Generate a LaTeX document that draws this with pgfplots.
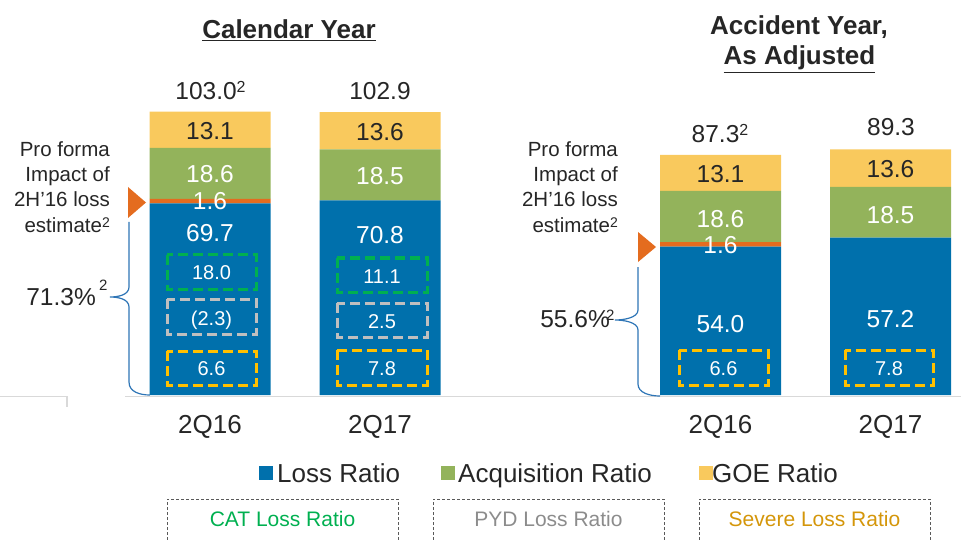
\documentclass[border=0pt]{standalone}
\usepackage{pgfplots}
\pgfplotsset{compat=1.18}
\usepackage{fontspec}
\setmainfont{Liberation Sans}
\definecolor{lossblue}{HTML}{0070AC}
\definecolor{acqgreen}{HTML}{93B35B}
\definecolor{goeyellow}{HTML}{F9C95D}
\definecolor{proorange}{HTML}{E46C1F}
\definecolor{catgreen}{HTML}{00B050}
\definecolor{pydgray}{HTML}{BFBFBF}
\definecolor{sevgold}{HTML}{FFC000}
\definecolor{txt}{HTML}{262626}
\definecolor{axgray}{HTML}{D9D9D9}
\definecolor{bracecol}{HTML}{2E75B6}
\definecolor{pydtext}{HTML}{8C8C8C}
\definecolor{sevtext}{HTML}{D4960A}
\newcommand{\fs}[1]{\fontsize{#1}{#1}\selectfont}
\newcommand{\suptwo}[2]{\raisebox{#1pt}{\fs{#2}2}}
\begin{document}
\begin{tikzpicture}[x=1pt,y=1pt]
\useasboundingbox (0,0) rectangle (961,539);
\begin{scope}[y=-1pt,yshift=539pt]
\draw[axgray,line width=1.5pt] (125,396.5) -- (961,396.5);
\draw[axgray,line width=1.5pt] (0,396.5) -- (67,396.5) -- (67,407);
\end{scope}
\begin{axis}[at={(0,0)},anchor=south west,scale only axis,
  width=961pt,height=539pt,
  xmin=0,xmax=961,ymin=-52.3636,ymax=143.6364,
  axis x line=middle, axis y line=none,
  x axis line style={draw=none},
  ybar stacked, bar width=121pt,
  xtick={210,380,720.5,890.5},
  xticklabels={2Q16,2Q17,2Q16,2Q17},
  major tick length=0pt,
  xticklabel style={font=\fs{26},text=txt,anchor=north,yshift=-17pt},
  ytick=\empty, clip=false]
\addplot[fill=lossblue,draw=none] coordinates {(210,69.7) (380,70.8) (720.5,54.0) (890.5,57.2)};
\addplot[fill=proorange,draw=none] coordinates {(210,1.6) (380,0) (720.5,1.6) (890.5,0)};
\addplot[fill=acqgreen,draw=none] coordinates {(210,18.6) (380,18.5) (720.5,18.6) (890.5,18.5)};
\addplot[fill=goeyellow,draw=none] coordinates {(210,13.1) (380,13.6) (720.5,13.1) (890.5,13.6)};
\end{axis}
\begin{scope}[y=-1pt,yshift=539pt,every node/.style={inner sep=0pt,anchor=base}]
% titles
\node[font=\bfseries\fs{26},text=txt] at (289,39) {\underline{Calendar Year}};
\node[font=\bfseries\fs{26},text=txt] at (799,35) {Accident Year,};
\node[font=\bfseries\fs{26},text=txt] at (799.5,65) {\underline{As Adjusted}};
% totals
\node[font=\fs{24.5},text=txt] at (210.5,100) {103.0\suptwo{7}{16}};
\node[font=\fs{24.5},text=txt] at (380,100) {102.9};
\node[font=\fs{24.5},text=txt] at (720,143) {87.3\suptwo{7}{16}};
\node[font=\fs{24.5},text=txt] at (891,136) {89.3};
% segment labels left bar 1
\node[font=\fs{24.5},text=txt] at (210,140) {13.1};
\node[font=\fs{24.5},text=white] at (210,183) {18.6};
\node[font=\fs{24.5},text=white] at (210,210) {1.6};
\node[font=\fs{24.5},text=white] at (210,241) {69.7};
% left bar 2
\node[font=\fs{24.5},text=txt] at (380,141) {13.6};
\node[font=\fs{24.5},text=white] at (380,185) {18.5};
\node[font=\fs{24.5},text=white] at (380,244) {70.8};
% right bar 1
\node[font=\fs{24.5},text=txt] at (720.5,183) {13.1};
\node[font=\fs{24.5},text=white] at (720.5,227) {18.6};
\node[font=\fs{24.5},text=white] at (720.5,254) {1.6};
\node[font=\fs{24.5},text=white] at (720.5,332) {54.0};
% right bar 2
\node[font=\fs{24.5},text=txt] at (890.5,178) {13.6};
\node[font=\fs{24.5},text=white] at (890.5,223) {18.5};
\node[font=\fs{24.5},text=white] at (890.5,327) {57.2};
% dashed boxes
\begin{scope}[line width=3pt,dash pattern=on 10pt off 5pt]
\draw[catgreen] (167,255) rectangle (256,289);
\draw[pydgray] (167,299) rectangle (256,334);
\draw[sevgold] (167,351) rectangle (256,385);
\draw[catgreen] (337,258) rectangle (427,292);
\draw[pydgray] (337,303) rectangle (427,337);
\draw[sevgold] (337,350) rectangle (427,385);
\draw[sevgold] (679,350) rectangle (768,385);
\draw[sevgold] (845,350) rectangle (933,385);
\end{scope}
\node[font=\fs{20},text=white] at (211.5,280) {18.0};
\node[font=\fs{20},text=white] at (211.5,325) {(2.3)};
\node[font=\fs{20},text=white] at (211.5,375) {6.6};
\node[font=\fs{20},text=white] at (382,283) {11.1};
\node[font=\fs{20},text=white] at (382,328) {2.5};
\node[font=\fs{20},text=white] at (382,375) {7.8};
\node[font=\fs{20},text=white] at (723.5,375) {6.6};
\node[font=\fs{20},text=white] at (889,375) {7.8};
% pro forma annotations
\foreach \xx in {110,618}{
\node[font=\fs{20.5},text=txt,anchor=base east] at (\xx,157) {Pro forma};
\node[font=\fs{20.5},text=txt,anchor=base east] at (\xx,182) {Impact of};
\node[font=\fs{20.5},text=txt,anchor=base east] at (\xx,207) {2H’16 loss};
\node[font=\fs{20.5},text=txt,anchor=base east] at (\xx,233) {estimate\suptwo{6}{14}};
}
\fill[proorange] (128,187) -- (146,202.5) -- (128,218) -- cycle;
\fill[proorange] (638,232) -- (656,247) -- (638,262) -- cycle;
% braces
\draw[bracecol,line width=1.2pt] (129,222) -- (129,287) .. controls (129,295) and (118,297) .. (110,297)
   .. controls (118,297) and (129,299) .. (129,307) -- (129,382) .. controls (129,392) and (140,395) .. (150,395);
\draw[bracecol,line width=1.2pt] (638,267) -- (638,310) .. controls (638,318) and (623,320) .. (615,320)
   .. controls (623,320) and (638,322) .. (638,330) -- (638,384) .. controls (638,393) and (650,396) .. (660,396);
\node[font=\fs{24.5},text=txt,anchor=base east] at (96,305) {71.3\%};
\node[font=\fs{15},text=txt,anchor=base west] at (99,290) {2};
\node[font=\fs{24.5},text=txt,anchor=base east] at (610,327) {55.6\%};
\node[font=\fs{15},text=txt,anchor=base west] at (606,320) {2};
% legend
\fill[lossblue] (259,466) rectangle (273,480);
\fill[acqgreen] (441,466) rectangle (455,480);
\fill[goeyellow] (699,466) rectangle (713,480);
\node[font=\fs{26},text=txt,anchor=base west] at (277,482) {Loss Ratio};
\node[font=\fs{26},text=txt,anchor=base west] at (458,482) {Acquisition Ratio};
\node[font=\fs{26},text=txt,anchor=base west] at (712,482) {GOE Ratio};
% bottom boxes
\begin{scope}[draw=black!65,line width=1pt,dash pattern=on 3pt off 2pt]
\draw (167,545) -- (167,499) -- (398,499) -- (398,545);
\draw (433,545) -- (433,499) -- (664,499) -- (664,545);
\draw (699,545) -- (699,499) -- (930,499) -- (930,545);
\end{scope}
\node[font=\fs{21},text=catgreen] at (282.5,526) {CAT Loss Ratio};
\node[font=\fs{21},text=pydtext] at (548.5,526) {PYD Loss Ratio};
\node[font=\fs{21},text=sevtext] at (814.5,526) {Severe Loss Ratio};
\end{scope}
\end{tikzpicture}
\end{document}
